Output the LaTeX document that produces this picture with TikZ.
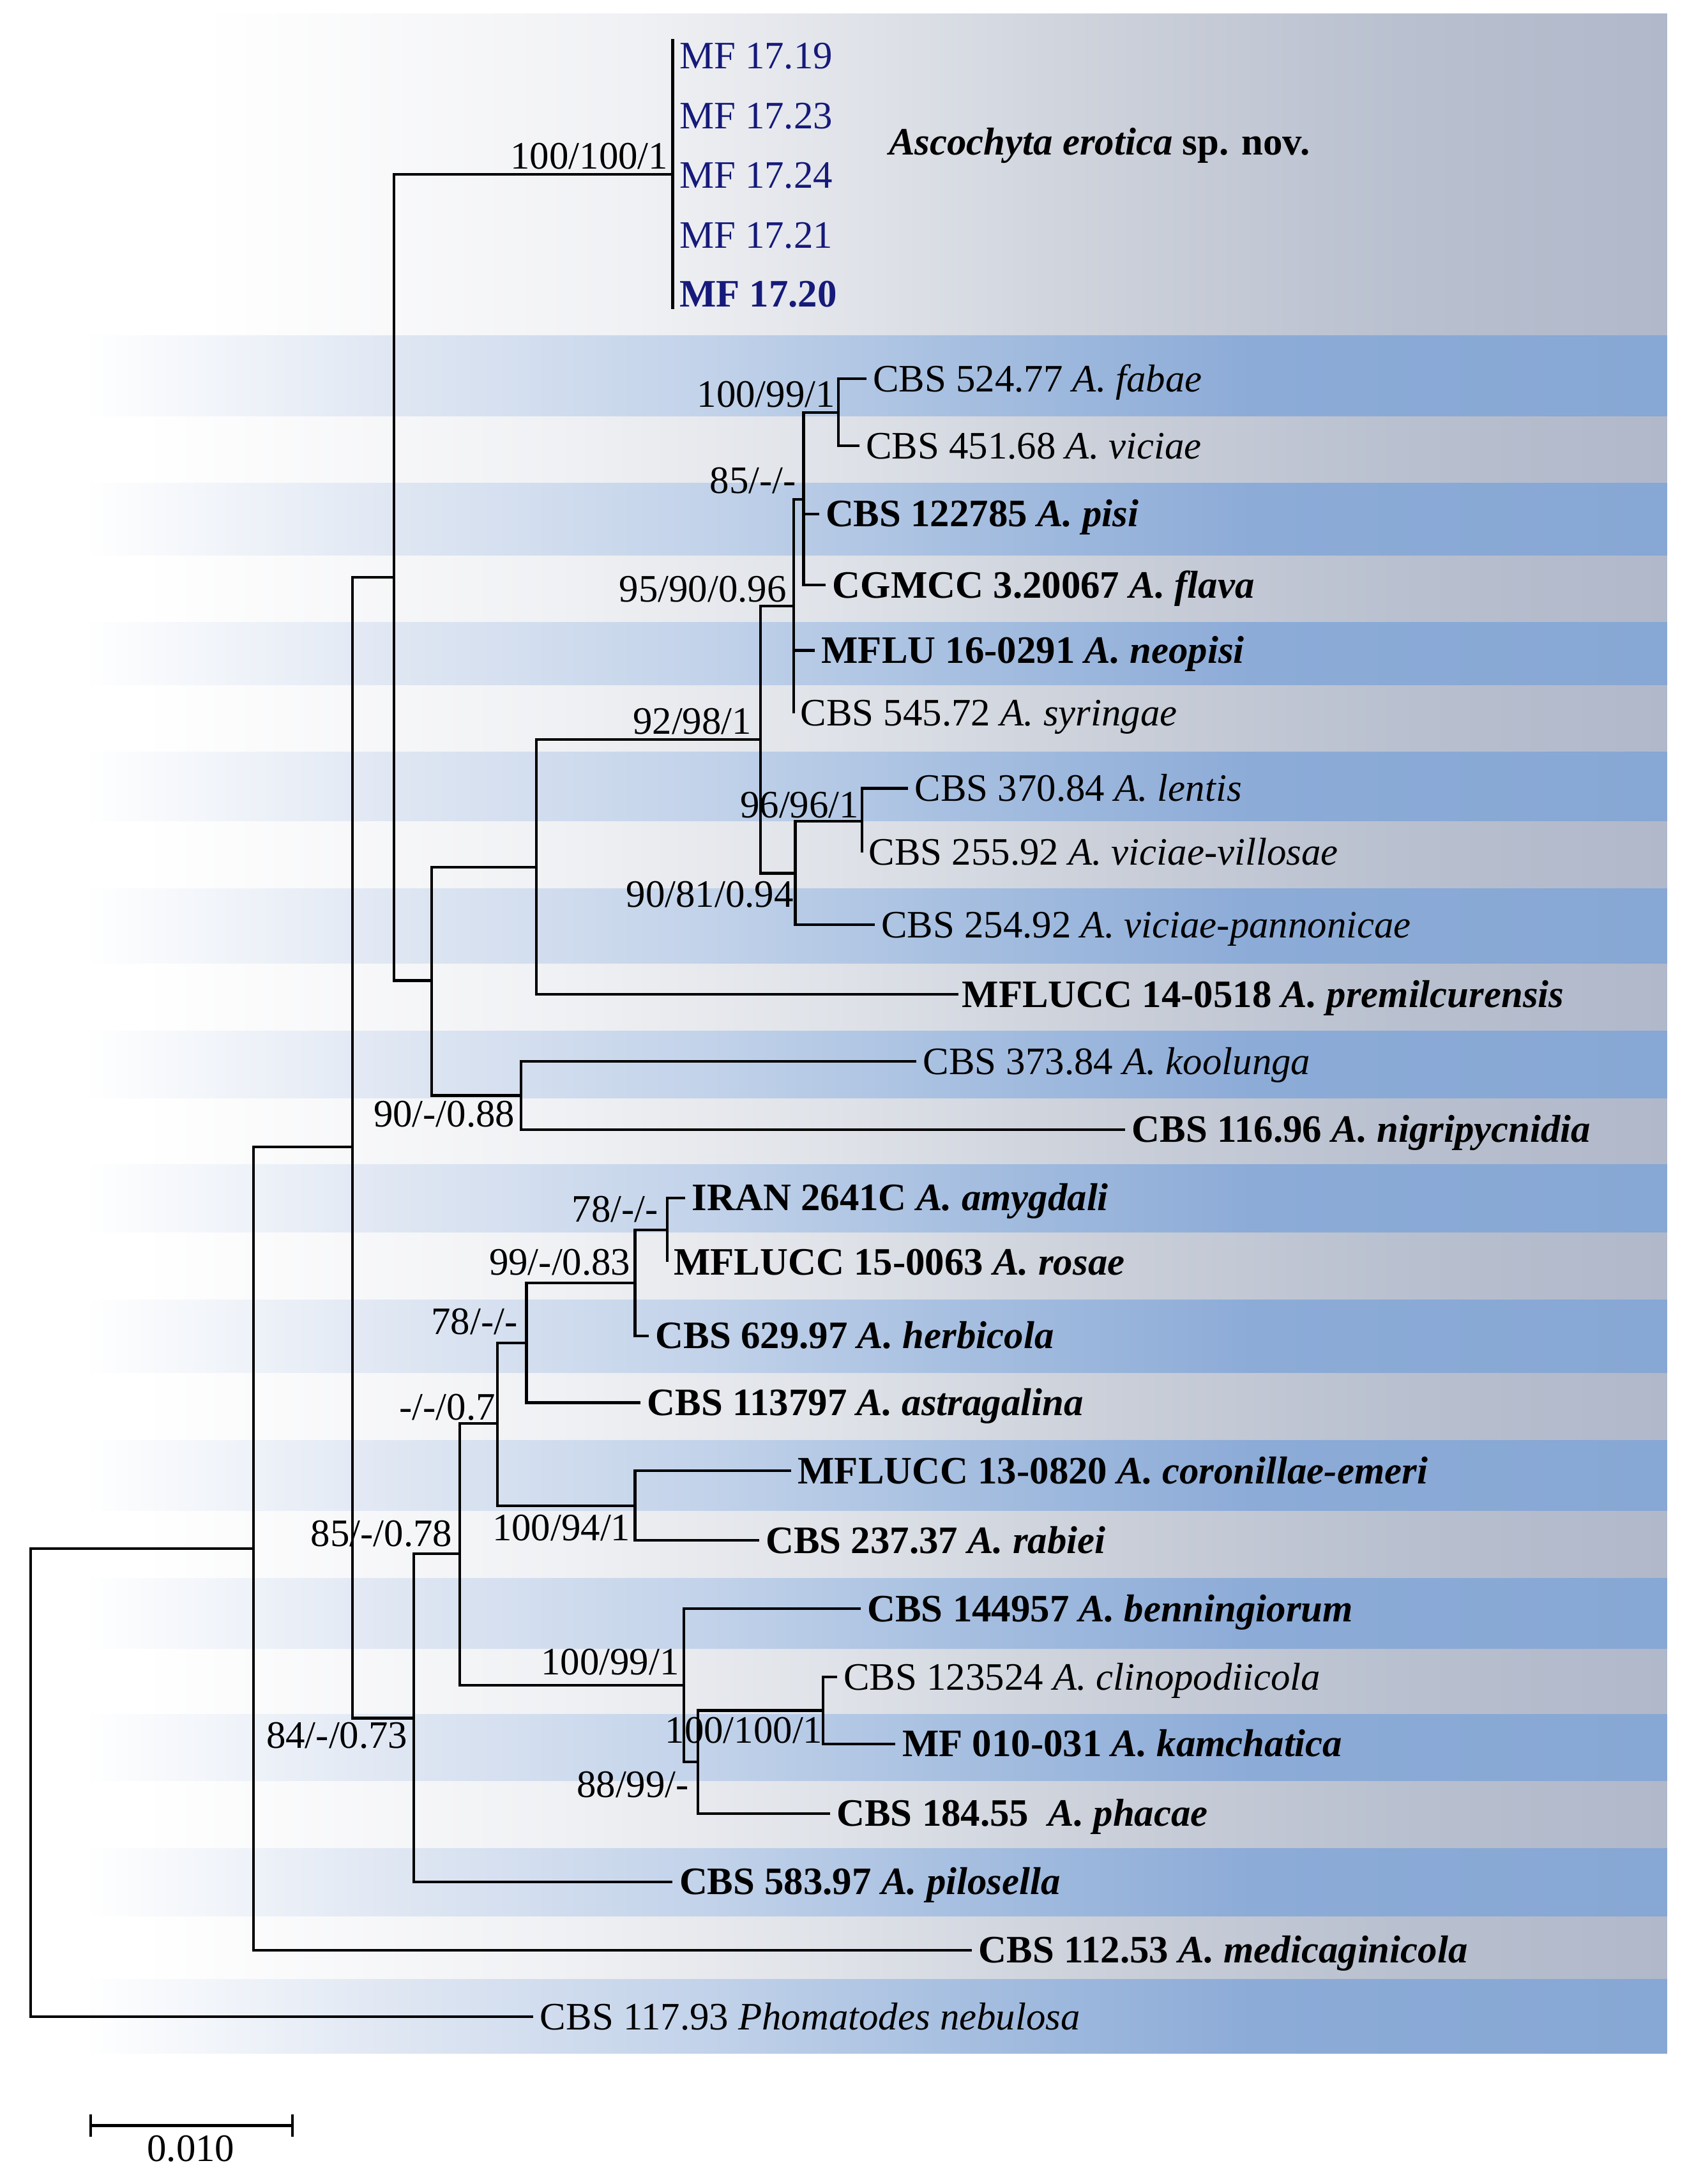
\documentclass[tikz,border=0pt]{standalone}
\usepackage{fontspec}
\setmainfont{Liberation Serif}
\definecolor{mfblue}{RGB}{22,26,122}
\definecolor{bA}{HTML}{DDE5F2}
\definecolor{bB}{HTML}{C3D3EA}
\definecolor{bC}{HTML}{A5BEE0}
\definecolor{bD}{HTML}{8CABD7}
\definecolor{bE}{HTML}{87A7D4}
\definecolor{gA}{HTML}{F0F1F4}
\definecolor{gB}{HTML}{DFE2E8}
\definecolor{gC}{HTML}{CACFD9}
\definecolor{gD}{HTML}{B9C0CF}
\definecolor{gE}{HTML}{B0B8CA}
\pgfdeclarehorizontalshading{blueband}{100bp}{color(0bp)=(white); color(27.5bp)=(white); color(37.5bp)=(bA); color(45.9bp)=(bB); color(54.2bp)=(bC); color(62.6bp)=(bD); color(75bp)=(bE); color(100bp)=(bE)}
\pgfdeclarehorizontalshading{grayband}{100bp}{color(0bp)=(white); color(29.2bp)=(white); color(41.7bp)=(gA); color(50.1bp)=(gB); color(58.4bp)=(gC); color(66.8bp)=(gD); color(75bp)=(gE); color(100bp)=(gE)}
\pgfdeclarehorizontalshading{topband}{100bp}{color(0bp)=(white); color(31bp)=(white); color(44bp)=(gA); color(51bp)=(gB); color(59bp)=(gC); color(67bp)=(gD); color(75bp)=(gE); color(100bp)=(gE)}
\begin{document}
\begin{tikzpicture}[x=0.02181cm,y=-0.02181cm,
  fs/.style={font=\fontsize{17.3}{20}\selectfont},
  leaf/.style={fs,anchor=west,inner xsep=2.8pt,inner ysep=0pt,text height=11.4pt,text depth=0pt},
  sup/.style={fs,anchor=east,inner sep=0pt,text height=11.4pt,text depth=0pt},
  mf/.style={leaf,text=mfblue},
  br/.style={line width=1.2pt,black}]
\useasboundingbox (0,0) rectangle (1211,1568);
% background bands
\shade[shading=topband] (0,10) rectangle (1197,241);
\foreach \a/\b/\s in {241/299/blueband,299/347/grayband,347/399/blueband,399/447/grayband,
  447/492/blueband,492/540/grayband,540/590/blueband,590/638/grayband,638/692/blueband,
  692/740/grayband,740/789/blueband,789/836/grayband,836/885/blueband,885/933/grayband,
  933/986/blueband,986/1034/grayband,1034/1085/blueband,1085/1133/grayband,1133/1184/blueband,
  1184/1231/grayband,1231/1279/blueband,1279/1327/grayband,1327/1376/blueband,1376/1421/grayband,
  1421/1474/blueband}
  \shade[shading=\s] (0,\a) rectangle (1197,\b);
% internal nodes
\coordinate (R) at (22,1279.5);
\coordinate (I) at (182,1111.75);
\coordinate (N11) at (253,823.5);
\coordinate (N9) at (283,414.5);
\coordinate (MF) at (483,125);
\coordinate (MFt) at (483,28);
\coordinate (MFb) at (483,222);
\coordinate (N8) at (310,704);
\coordinate (N7) at (385,622.5);
\coordinate (N4) at (546,531);
\coordinate (N3) at (570,435);
\coordinate (N2) at (577,358.5);
\coordinate (N1) at (602,296);
\coordinate (N5) at (571,627);
\coordinate (N6) at (619,589.5);
\coordinate (N10) at (374,786.5);
\coordinate (N12) at (297,1233.5);
\coordinate (N13) at (330,1115.5);
\coordinate (N14) at (357,1022);
\coordinate (N15) at (378,964);
\coordinate (N16) at (456,921);
\coordinate (N17) at (479,883);
\coordinate (N18) at (456,1081);
\coordinate (N19) at (491,1210);
\coordinate (N20) at (501,1265);
\coordinate (N21) at (591,1228);
% leaves
\node[mf] (mf19) at (483,40) {MF 17.19};
\node[mf] (mf23) at (483,83) {MF 17.23};
\node[mf] (mf24) at (483,126) {MF 17.24};
\node[mf] (mf21) at (483,169) {MF 17.21};
\node[mf] (mf20) at (483,211) {\textbf{MF 17.20}};
\node[leaf,inner xsep=0pt] (asco) at (638,102) {\textbf{\textit{Ascochyta erotica} sp. nov.}};
\node[leaf] (fabae) at (622,272) {CBS 524.77 \textit{A. fabae}};
\node[leaf] (viciae) at (617,320) {CBS 451.68 \textit{A. viciae}};
\node[leaf] (pisi) at (588,369) {\textbf{CBS 122785 \textit{A. pisi}}};
\node[leaf] (flava) at (593,420) {\textbf{CGMCC 3.20067 \textit{A. flava}}};
\node[leaf] (neop) at (585,467) {\textbf{MFLU 16-0291 \textit{A. neopisi}}};
\node[leaf] (syr) at (570,512) {CBS 545.72 \textit{A. syringae}};
\node[leaf] (lent) at (652,566) {CBS 370.84 \textit{A. lentis}};
\node[leaf] (vill) at (619,612) {CBS 255.92 \textit{A. viciae-villosae}};
\node[leaf] (pann) at (628,664) {CBS 254.92 \textit{A. viciae-pannonicae}};
\node[leaf,inner xsep=1.5pt] (prem) at (688,714) {\textbf{MFLUCC 14-0518 \textit{A. premilcurensis}}};
\node[leaf] (kool) at (658,762) {CBS 373.84 \textit{A. koolunga}};
\node[leaf] (nigr) at (808,811) {\textbf{CBS 116.96 \textit{A. nigripycnidia}}};
\node[leaf] (amyg) at (492,860) {\textbf{IRAN 2641C \textit{A. amygdali}}};
\node[leaf] (rosa) at (479,906) {\textbf{MFLUCC 15-0063 \textit{A. rosae}}};
\node[leaf] (herb) at (466,959) {\textbf{CBS 629.97 \textit{A. herbicola}}};
\node[leaf] (astr) at (460,1007) {\textbf{CBS 113797 \textit{A. astragalina}}};
\node[leaf] (coro) at (568,1056) {\textbf{MFLUCC 13-0820 \textit{A. coronillae-emeri}}};
\node[leaf] (rabi) at (545,1106) {\textbf{CBS 237.37 \textit{A. rabiei}}};
\node[leaf] (benn) at (618,1155) {\textbf{CBS 144957 \textit{A. benningiorum}}};
\node[leaf] (clin) at (601,1204) {CBS 123524 \textit{A. clinopodiicola}};
\node[leaf] (kamc) at (643,1252) {\textbf{MF 010-031 \textit{A. kamchatica}}};
\node[leaf] (phac) at (596,1302) {\textbf{CBS 184.55\ \ \textit{A. phacae}}};
\node[leaf] (pilo) at (483,1351) {\textbf{CBS 583.97 \textit{A. pilosella}}};
\node[leaf] (medi) at (698,1400) {\textbf{CBS 112.53 \textit{A. medicaginicola}}};
\node[leaf] (nebu) at (383,1448) {CBS 117.93 \textit{Phomatodes nebulosa}};
% support values
\node[sup] (s1) at (480,112) {100/100/1};
\node[sup] (s2) at (600,283) {100/99/1};
\node[sup] (s3) at (572,345) {85/-/-};
\node[sup] (s4) at (565,423) {95/90/0.96};
\node[sup] (s5) at (540,518) {92/98/1};
\node[sup] (s6) at (617,578) {96/96/1};
\node[sup] (s7) at (570,642) {90/81/0.94};
\node[sup] (s8) at (370,800) {90/-/0.88};
\node[sup] (s9) at (473,868) {78/-/-};
\node[sup] (s10) at (453,906) {99/-/0.83};
\node[sup] (s11) at (372,949) {78/-/-};
\node[sup] (s12) at (356,1010) {-/-/0.7};
\node[sup] (s13) at (453,1097) {100/94/1};
\node[sup] (s14) at (325,1101) {85/-/0.78};
\node[sup] (s15) at (488,1193) {100/99/1};
\node[sup] (s16) at (591,1242) {100/100/1};
\node[sup] (s17) at (293,1246) {84/-/0.73};
\node[sup] (s18) at (495,1281) {88/99/-};
% branches
\draw[br] (MFt) -- (MFb);
\draw[br] (R) |- (I);   \draw[br] (R) |- (nebu.west);
\draw[br] (I) |- (N11); \draw[br] (I) |- (medi.west);
\draw[br] (N11) |- (N9); \draw[br] (N11) |- (N12);
\draw[br] (N9) |- (MF);  \draw[br] (N9) |- (N8);
\draw[br] (N8) |- (N7);  \draw[br] (N8) |- (N10);
\draw[br] (N7) |- (N4);  \draw[br] (N7) |- (prem.west);
\draw[br] (N4) |- (N3);  \draw[br] (N4) |- (N5);
\draw[br] (N3) |- (N2);  \draw[br] (N3) |- (neop.west); \draw[br] (N3) |- (syr.west);
\draw[br] (N2) |- (N1);  \draw[br] (N2) |- (pisi.west); \draw[br] (N2) |- (flava.west);
\draw[br] (N1) |- (fabae.west); \draw[br] (N1) |- (viciae.west);
\draw[br] (N5) |- (N6);  \draw[br] (N5) |- (pann.west);
\draw[br] (N6) |- (lent.west); \draw[br] (N6) |- (vill.west);
\draw[br] (N10) |- (kool.west); \draw[br] (N10) |- (nigr.west);
\draw[br] (N12) |- (N13); \draw[br] (N12) |- (pilo.west);
\draw[br] (N13) |- (N14); \draw[br] (N13) |- (N19);
\draw[br] (N14) |- (N15); \draw[br] (N14) |- (N18);
\draw[br] (N15) |- (N16); \draw[br] (N15) |- (astr.west);
\draw[br] (N16) |- (N17); \draw[br] (N16) |- (herb.west);
\draw[br] (N17) |- (amyg.west); \draw[br] (N17) |- (rosa.west);
\draw[br] (N18) |- (coro.west); \draw[br] (N18) |- (rabi.west);
\draw[br] (N19) |- (benn.west); \draw[br] (N19) |- (N20);
\draw[br] (N20) |- (N21); \draw[br] (N20) |- (phac.west);
\draw[br] (N21) |- (clin.west); \draw[br] (N21) |- (kamc.west);
% scale bar
\coordinate (sbL) at (65,1526);
\coordinate (sbR) at (210,1526);
\draw[br] (sbL) -- (sbR);
\draw[br] ([yshift=5pt]sbL) -- ([yshift=-5pt]sbL);
\draw[br] ([yshift=5pt]sbR) -- ([yshift=-5pt]sbR);
\node[fs,inner sep=0pt,anchor=north] (sblab) at (137,1533) {0.010};
\end{tikzpicture}
\end{document}
